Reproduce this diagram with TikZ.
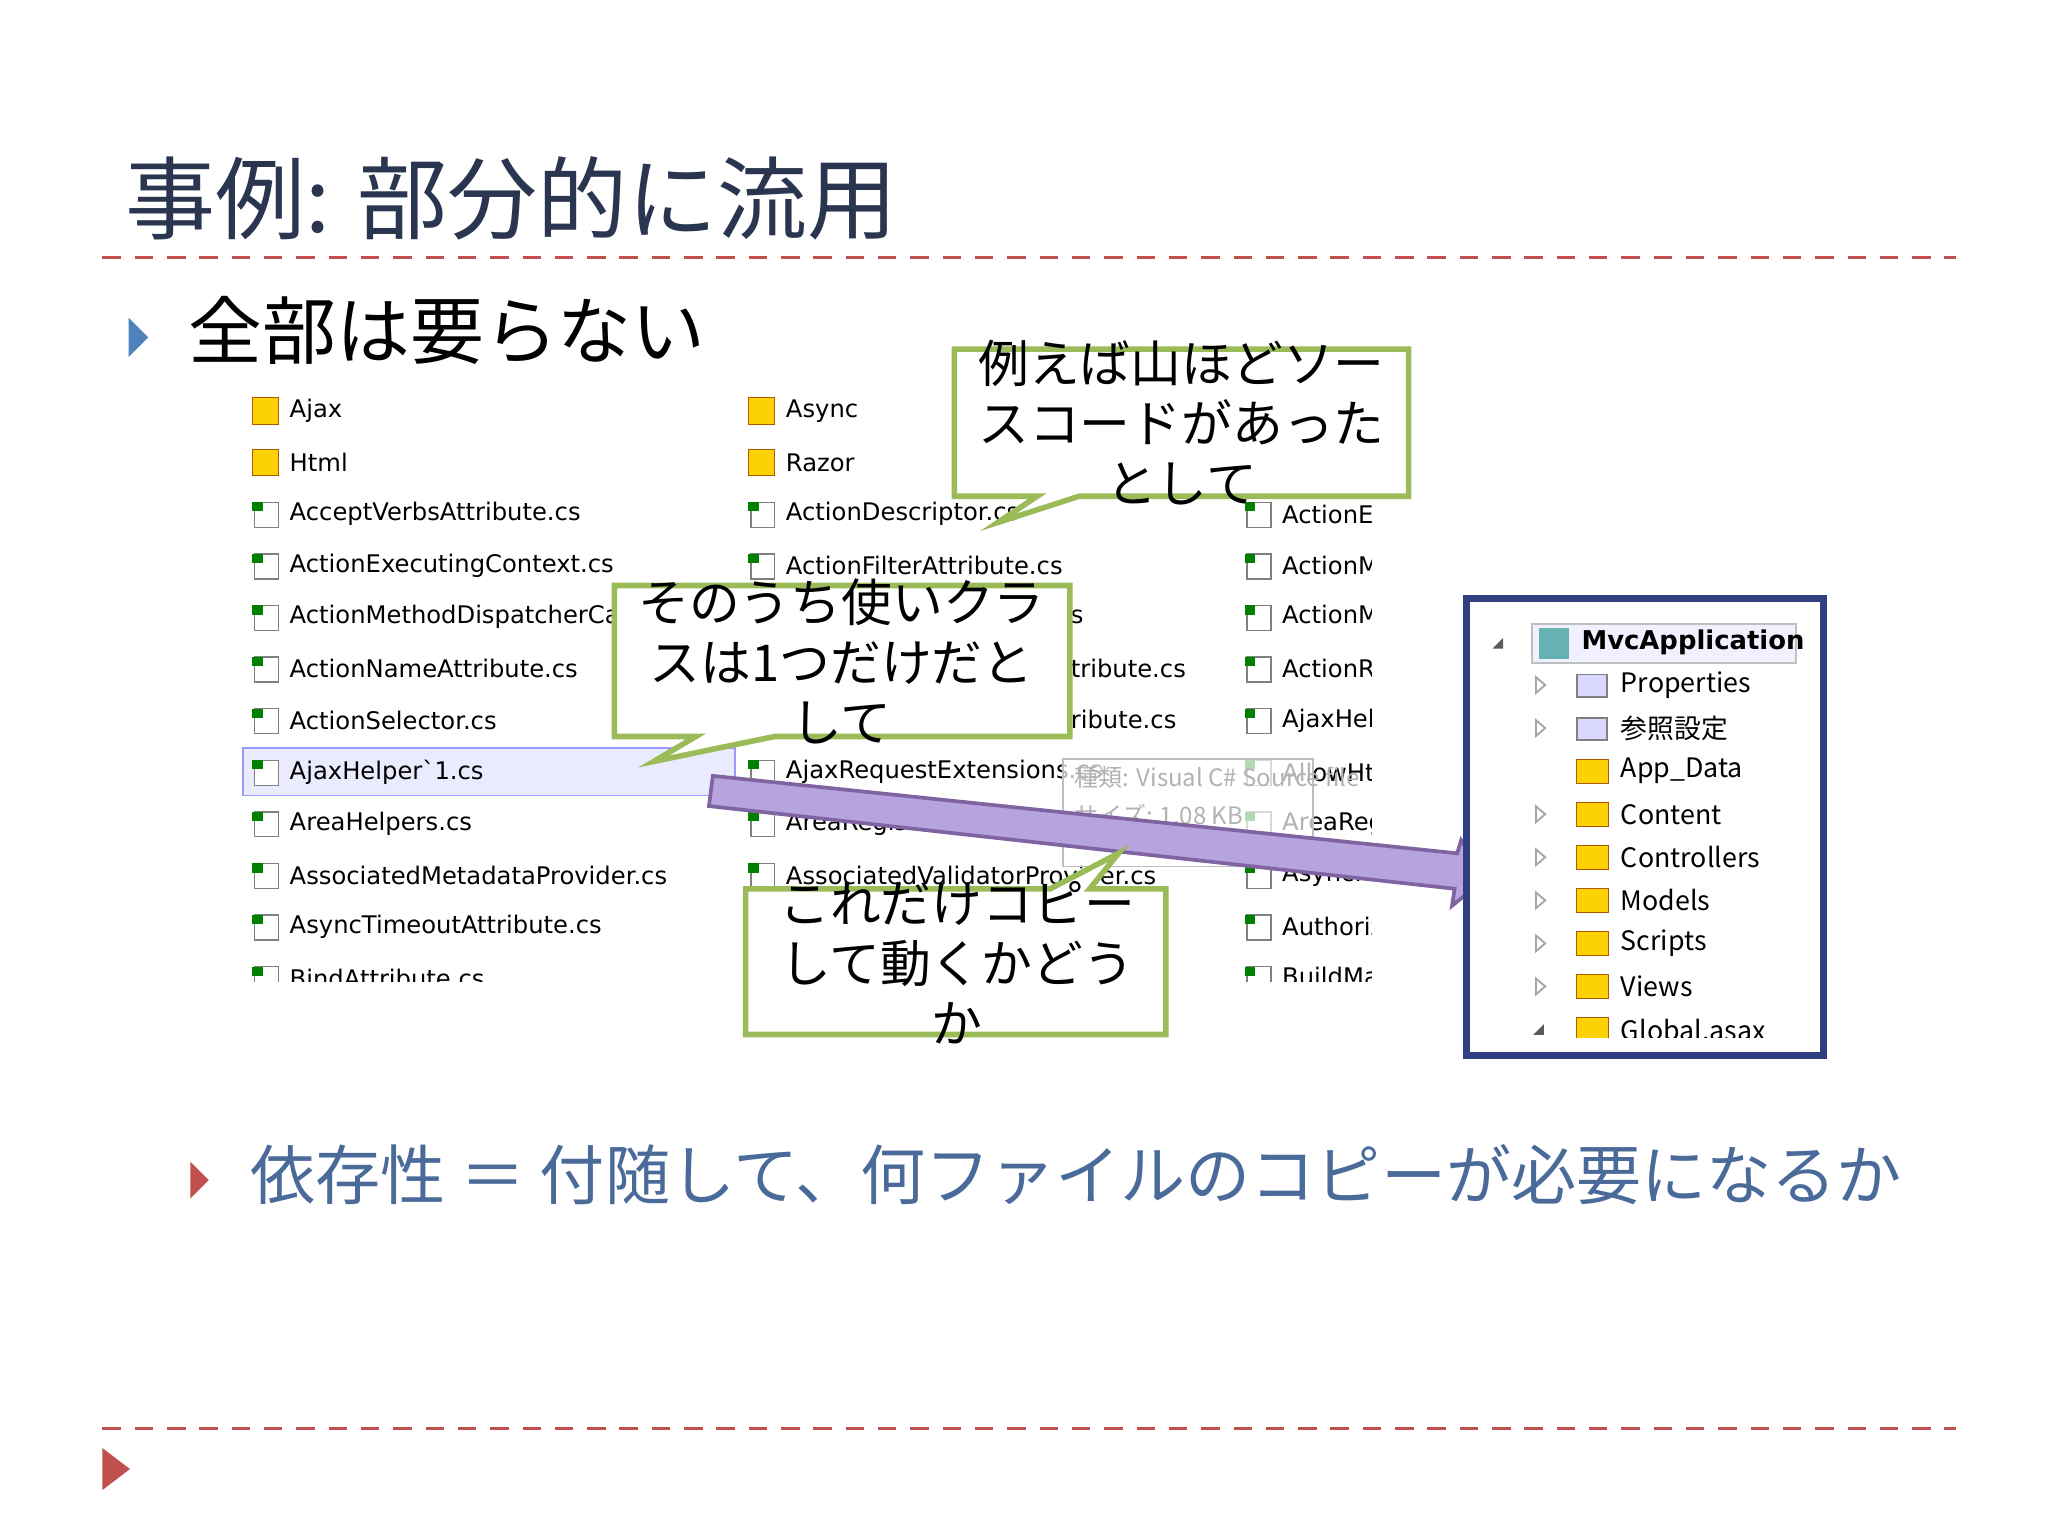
\documentclass[tikz,border=0pt]{standalone}
\usepackage{fontspec}
\setmainfont{Liberation Sans}
\newfontfamily\cjk{Noto Sans CJK JP}
\newfontfamily\ui{DejaVu Sans}
\begin{document}
\begin{tikzpicture}[x=0.01cm,y=-0.01cm,
  callout/.style={line width=1.2pt, fill=white},
  lst/.style={anchor=west, font=\ui\fontsize{5.25}{6}\selectfont, text=black, inner sep=0},
  fold/.style={fill=yellow!70!orange, draw=orange!70!black, line width=0.2pt},
  filei/.style={fill=white, draw=gray, line width=0.3pt},
  ctext/.style={font=\cjk\fontsize{11}{13}\selectfont, align=center, inner sep=0}]
\definecolor{cgreen}{HTML}{9BBB59}
\definecolor{tblue}{HTML}{2A3550}
\definecolor{bblue}{HTML}{4F81BD}
\definecolor{bred}{HTML}{C0504D}
\definecolor{ptxt}{HTML}{4A6A9A}
\definecolor{pfill}{HTML}{B7A3DE}
\definecolor{pline}{HTML}{8064A2}
\useasboundingbox (0,0) rectangle (1560,1170);
\fill[white] (0,0) rectangle (1560,1170);
% title
\node[anchor=south west, inner sep=0, font=\cjk\fontsize{19.5}{21}\selectfont, text=tblue] (title) at (95,184) {事例: 部分的に流用};
\draw[bred, line width=0.6pt, dash pattern=on 4pt off 3pt] (78,196) -- (1490,196);
\draw[bred, line width=0.6pt, dash pattern=on 4pt off 3pt] (78,1088) -- (1490,1088);
% bullets
\fill[bblue] (98,242) -- (113,257) -- (98,272) -- cycle;
\node[anchor=west, inner sep=0, font=\cjk\fontsize{16}{18}\selectfont] (b1) at (143,252) {全部は要らない};
\fill[bred] (145,885) -- (159,899) -- (145,913) -- cycle;
\node[anchor=west, inner sep=0, font=\cjk\fontsize{14.1}{16}\selectfont, text=ptxt] (b2) at (190,895) {依存性 ＝ 付随して、何ファイルのコピーが必要になるか};
\fill[bred] (78,1103) -- (99,1119) -- (78,1135) -- cycle;
% file list
\begin{scope}
\clip (183,295) rectangle (1045,748);
\fill[blue!8] (185,570) rectangle (560,606);
\draw[blue!40] (185,570) rectangle (560,606);
\foreach \t [count=\i from 0] in {Ajax,Html,AcceptVerbsAttribute.cs,ActionExecutingContext.cs,ActionMethodDispatcherCache.cs,ActionNameAttribute.cs,ActionSelector.cs,AjaxHelper`1.cs,AreaHelpers.cs,AssociatedMetadataProvider.cs,AsyncTimeoutAttribute.cs,BindAttribute.cs}{
  \pgfmathsetmacro\yy{313+39.3*\i}
  \ifnum\i<2 \fill[fold] (192,\yy-10) rectangle (212,\yy+10); \else \draw[filei] (194,\yy-9) rectangle (212,\yy+10); \fill[green!50!black] (192,\yy-9) rectangle (200,\yy-2);\fi
  \node[lst] at (220,\yy) {\t};}
\foreach \t [count=\i from 0] in {Async,Razor,ActionDescriptor.cs,ActionFilterAttribute.cs,ActionMethodSelectorAttribute.cs,ActionMethodSelectorAttribute.cs,ActionNameSelectorAttribute.cs,AjaxRequestExtensions.cs,AreaRegistration.cs,AssociatedValidatorProvider.cs,AsyncController.cs,AuthorizeAttribute.cs}{
  \pgfmathsetmacro\yy{313+39.3*\i}
  \ifnum\i<2 \fill[fold] (570,\yy-10) rectangle (590,\yy+10); \else \draw[filei] (572,\yy-9) rectangle (590,\yy+10); \fill[green!50!black] (570,\yy-9) rectangle (578,\yy-2);\fi
  \node[lst] at (598,\yy) {\t};}
\fill[white] (815,450) rectangle (946,560);
\node[lst] at (815,470) {s};
\node[lst] at (815,509) {tribute.cs};
\node[lst] at (815,548) {ribute.cs};
\foreach \t [count=\i from 2] in {ActionExecutedContext,ActionMethodSelector,ActionMethodDispatcher,ActionResult,AjaxHelper,AllowHtml,AreaRegistration,AsyncManager,AuthorizationContext,BuildManager}{
  \pgfmathsetmacro\yy{313+39.3*\i}
  \fill[white] (946,\yy-15) rectangle (1045,\yy+15);
  \draw[filei] (950,\yy-9) rectangle (968,\yy+10); \fill[green!50!black] (948,\yy-9) rectangle (956,\yy-2);
  \node[lst] at (976,\yy) {\t};}
% tooltip
\fill[white,opacity=0.7] (810,578) rectangle (1000,660);
\draw[gray!50] (810,578) rectangle (1000,660);
\node[lst, text=gray!60, font=\cjk\fontsize{5.2}{6}\selectfont] at (818,592) {種類: Visual C\# Source file};
\node[lst, text=gray!60, font=\cjk\fontsize{5.2}{6}\selectfont] at (818,621) {サイズ: 1.08 KB};
\end{scope}
% purple arrow
\draw[fill=pfill, draw=pline, line width=0.8pt]
  (543,591) -- (1110,650) -- (1113,640) -- (1133,668) -- (1106,690) -- (1108,677) -- (540,614) -- cycle;
% callouts
\draw[callout, draw=cgreen] (727,266) -- (1073,266) -- (1073,378) -- (822,378) -- (760,398) -- (790,378) -- (727,378) -- cycle;
\node[ctext] (c1) at (900,322) {例えば山ほどソー\\スコードがあった\\として};
\draw[callout, draw=cgreen] (468,446) -- (815,446) -- (815,561) -- (590,561) -- (498,580) -- (530,561) -- (468,561) -- cycle;
\node[ctext] (c2) at (641,504) {そのうち使いクラ\\スは1つだけだと\\して};
\draw[callout, draw=cgreen] (568,677) -- (800,677) -- (852,650) -- (830,677) -- (888,677) -- (888,788) -- (568,788) -- cycle;
\node[ctext] (c3) at (729,733) {これだけコピー\\して動くかどう\\か};
% solution explorer
\begin{scope}
\clip (1117,456) rectangle (1389,790);
\fill[white] (1117,456) rectangle (1389,804);
\fill[blue!6] (1167,475) rectangle (1368,505);
\draw[gray!50] (1167,475) rectangle (1368,505);
\fill[gray!70!black] (1137,494) -- (1145,486) -- (1145,494) -- cycle;
\fill[teal!60] (1172,478) rectangle (1195,502);
\node[lst, font=\ui\bfseries\fontsize{5.6}{7}\selectfont] (mvc) at (1204,489) {MvcApplication};
\foreach \t/\a [count=\i from 1] in {Properties/1,参照設定/1,App\_Data/0,Content/1,Controllers/1,Models/1,Scripts/1,Views/1,Global.asax/2}{
  \pgfmathsetmacro\yy{489+32.8*\i}
  \ifnum\a=1 \draw[gray!70] (1170,\yy-6) -- (1177,\yy) -- (1170,\yy+6) -- cycle;\fi
  \ifnum\a=2 \fill[gray!70!black] (1168,\yy+4) -- (1176,\yy-4) -- (1176,\yy+4) -- cycle;\fi
  \ifnum\i<3 \draw[fill=blue!15, draw=gray] (1201,\yy-8) rectangle (1224,\yy+9); \else \fill[fold] (1201,\yy-9) rectangle (1225,\yy+9);\fi
  \node[lst, font=\cjk\fontsize{5.8}{7}\selectfont] at (1234,\yy) {\t};}
\end{scope}
\draw[draw={rgb,255:red,47;green,63;blue,127}, line width=1.5pt] (1117,456) rectangle (1389,804);
\end{tikzpicture}
\end{document}
